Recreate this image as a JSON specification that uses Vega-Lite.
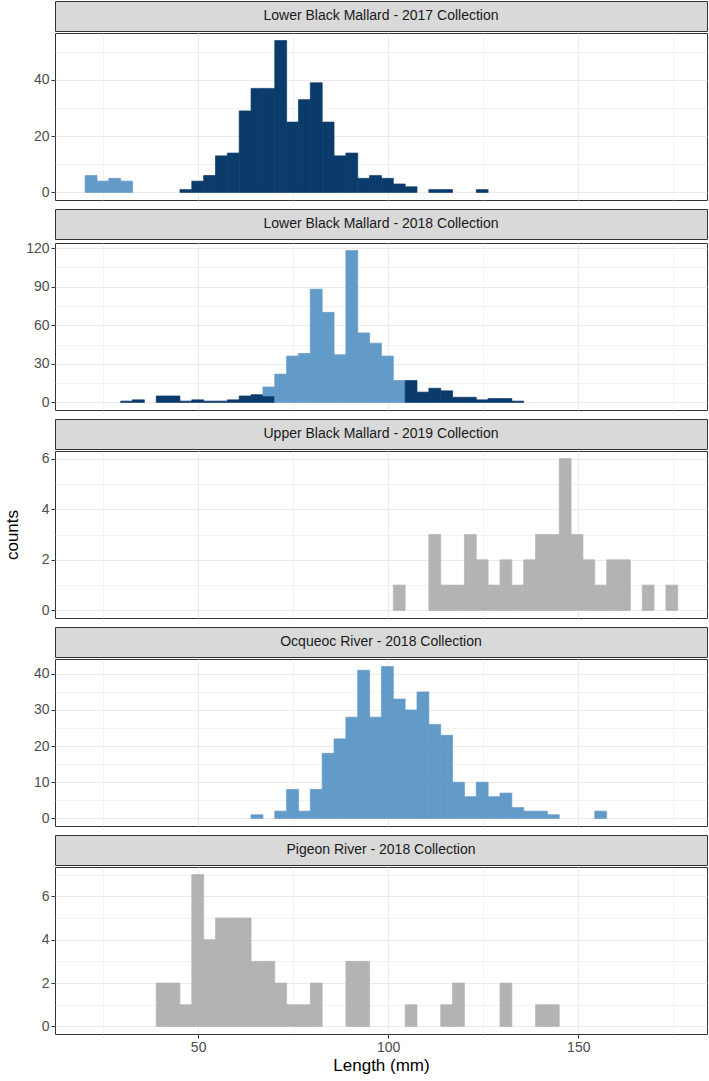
{
  "$schema": "https://vega.github.io/schema/vega-lite/v6.json",
  "padding": {"left": 2, "top": 0, "right": 0, "bottom": 0},
  "background": "white",
  "config": {
    "font": "Liberation Sans",
    "view": {"stroke": "#333333", "strokeWidth": 1},
    "axis": {"domain": false, "labelColor": "#4D4D4D", "labelFontSize": 14, "tickColor": "#333333", "tickSize": 4, "labelPadding": 2, "gridColor": "#EBEBEB", "titleFontWeight": "normal", "titleColor": "#000000", "titleFontSize": 17},
    "text": {"font": "Liberation Sans"},
    "bar": {"strokeWidth": 0.7, "binSpacing": 0}
  },
  "datasets": {
    "h": [
      {"p": 1, "a": 20.14, "b": 23.26, "n": 6, "g": "light"},
      {"p": 1, "a": 23.26, "b": 26.38, "n": 4, "g": "light"},
      {"p": 1, "a": 26.38, "b": 29.49, "n": 5, "g": "light"},
      {"p": 1, "a": 29.49, "b": 32.61, "n": 4, "g": "light"},
      {"p": 1, "a": 45.08, "b": 48.2, "n": 1, "g": "dark"},
      {"p": 1, "a": 48.2, "b": 51.32, "n": 4, "g": "dark"},
      {"p": 1, "a": 51.32, "b": 54.44, "n": 6, "g": "dark"},
      {"p": 1, "a": 54.44, "b": 57.56, "n": 13, "g": "dark"},
      {"p": 1, "a": 57.56, "b": 60.67, "n": 14, "g": "dark"},
      {"p": 1, "a": 60.67, "b": 63.79, "n": 29, "g": "dark"},
      {"p": 1, "a": 63.79, "b": 66.91, "n": 37, "g": "dark"},
      {"p": 1, "a": 66.91, "b": 70.03, "n": 37, "g": "dark"},
      {"p": 1, "a": 70.03, "b": 73.15, "n": 54, "g": "dark"},
      {"p": 1, "a": 73.15, "b": 76.26, "n": 25, "g": "dark"},
      {"p": 1, "a": 76.26, "b": 79.38, "n": 33, "g": "dark"},
      {"p": 1, "a": 79.38, "b": 82.5, "n": 39, "g": "dark"},
      {"p": 1, "a": 82.5, "b": 85.62, "n": 25, "g": "dark"},
      {"p": 1, "a": 85.62, "b": 88.74, "n": 13, "g": "dark"},
      {"p": 1, "a": 88.74, "b": 91.85, "n": 14, "g": "dark"},
      {"p": 1, "a": 91.85, "b": 94.97, "n": 5, "g": "dark"},
      {"p": 1, "a": 94.97, "b": 98.09, "n": 6, "g": "dark"},
      {"p": 1, "a": 98.09, "b": 101.21, "n": 5, "g": "dark"},
      {"p": 1, "a": 101.21, "b": 104.33, "n": 3, "g": "dark"},
      {"p": 1, "a": 104.33, "b": 107.44, "n": 2, "g": "dark"},
      {"p": 1, "a": 110.56, "b": 113.68, "n": 1, "g": "dark"},
      {"p": 1, "a": 113.68, "b": 116.8, "n": 1, "g": "dark"},
      {"p": 1, "a": 123.03, "b": 126.15, "n": 1, "g": "dark"},

      {"p": 2, "a": 29.49, "b": 32.61, "n": 1, "g": "dark"},
      {"p": 2, "a": 32.61, "b": 35.73, "n": 2, "g": "dark"},
      {"p": 2, "a": 38.85, "b": 41.97, "n": 5, "g": "dark"},
      {"p": 2, "a": 41.97, "b": 45.08, "n": 5, "g": "dark"},
      {"p": 2, "a": 45.08, "b": 48.2, "n": 1, "g": "dark"},
      {"p": 2, "a": 48.2, "b": 51.32, "n": 2, "g": "dark"},
      {"p": 2, "a": 51.32, "b": 54.44, "n": 1, "g": "dark"},
      {"p": 2, "a": 54.44, "b": 57.56, "n": 1, "g": "dark"},
      {"p": 2, "a": 57.56, "b": 60.67, "n": 2, "g": "dark"},
      {"p": 2, "a": 60.67, "b": 63.79, "n": 5, "g": "dark"},
      {"p": 2, "a": 63.79, "b": 66.91, "n": 6, "g": "dark"},
      {"p": 2, "a": 66.91, "b": 70.03, "n": 5, "g": "dark"},
      {"p": 2, "a": 66.91, "b": 70.03, "n": 7, "g": "light"},
      {"p": 2, "a": 70.03, "b": 73.15, "n": 22, "g": "light"},
      {"p": 2, "a": 73.15, "b": 76.26, "n": 36, "g": "light"},
      {"p": 2, "a": 76.26, "b": 79.38, "n": 38, "g": "light"},
      {"p": 2, "a": 79.38, "b": 82.5, "n": 88, "g": "light"},
      {"p": 2, "a": 82.5, "b": 85.62, "n": 70, "g": "light"},
      {"p": 2, "a": 85.62, "b": 88.74, "n": 37, "g": "light"},
      {"p": 2, "a": 88.74, "b": 91.85, "n": 118, "g": "light"},
      {"p": 2, "a": 91.85, "b": 94.97, "n": 54, "g": "light"},
      {"p": 2, "a": 94.97, "b": 98.09, "n": 46, "g": "light"},
      {"p": 2, "a": 98.09, "b": 101.21, "n": 36, "g": "light"},
      {"p": 2, "a": 101.21, "b": 104.33, "n": 17, "g": "light"},
      {"p": 2, "a": 104.33, "b": 107.44, "n": 17, "g": "dark"},
      {"p": 2, "a": 107.44, "b": 110.56, "n": 8, "g": "dark"},
      {"p": 2, "a": 110.56, "b": 113.68, "n": 11, "g": "dark"},
      {"p": 2, "a": 113.68, "b": 116.8, "n": 9, "g": "dark"},
      {"p": 2, "a": 116.8, "b": 119.92, "n": 4, "g": "dark"},
      {"p": 2, "a": 119.92, "b": 123.03, "n": 4, "g": "dark"},
      {"p": 2, "a": 123.03, "b": 126.15, "n": 2, "g": "dark"},
      {"p": 2, "a": 126.15, "b": 129.27, "n": 3, "g": "dark"},
      {"p": 2, "a": 129.27, "b": 132.39, "n": 3, "g": "dark"},
      {"p": 2, "a": 132.39, "b": 135.51, "n": 1, "g": "dark"},

      {"p": 3, "a": 101.21, "b": 104.33, "n": 1, "g": "none"},
      {"p": 3, "a": 110.56, "b": 113.68, "n": 3, "g": "none"},
      {"p": 3, "a": 113.68, "b": 116.8, "n": 1, "g": "none"},
      {"p": 3, "a": 116.8, "b": 119.92, "n": 1, "g": "none"},
      {"p": 3, "a": 119.92, "b": 123.03, "n": 3, "g": "none"},
      {"p": 3, "a": 123.03, "b": 126.15, "n": 2, "g": "none"},
      {"p": 3, "a": 126.15, "b": 129.27, "n": 1, "g": "none"},
      {"p": 3, "a": 129.27, "b": 132.39, "n": 2, "g": "none"},
      {"p": 3, "a": 132.39, "b": 135.51, "n": 1, "g": "none"},
      {"p": 3, "a": 135.51, "b": 138.62, "n": 2, "g": "none"},
      {"p": 3, "a": 138.62, "b": 141.74, "n": 3, "g": "none"},
      {"p": 3, "a": 141.74, "b": 144.86, "n": 3, "g": "none"},
      {"p": 3, "a": 144.86, "b": 147.98, "n": 6, "g": "none"},
      {"p": 3, "a": 147.98, "b": 151.1, "n": 3, "g": "none"},
      {"p": 3, "a": 151.1, "b": 154.21, "n": 2, "g": "none"},
      {"p": 3, "a": 154.21, "b": 157.33, "n": 1, "g": "none"},
      {"p": 3, "a": 157.33, "b": 160.45, "n": 2, "g": "none"},
      {"p": 3, "a": 160.45, "b": 163.57, "n": 2, "g": "none"},
      {"p": 3, "a": 166.69, "b": 169.8, "n": 1, "g": "none"},
      {"p": 3, "a": 172.92, "b": 176.04, "n": 1, "g": "none"},

      {"p": 4, "a": 63.79, "b": 66.91, "n": 1, "g": "light"},
      {"p": 4, "a": 70.03, "b": 73.15, "n": 2, "g": "light"},
      {"p": 4, "a": 73.15, "b": 76.26, "n": 8, "g": "light"},
      {"p": 4, "a": 76.26, "b": 79.38, "n": 2, "g": "light"},
      {"p": 4, "a": 79.38, "b": 82.5, "n": 8, "g": "light"},
      {"p": 4, "a": 82.5, "b": 85.62, "n": 18, "g": "light"},
      {"p": 4, "a": 85.62, "b": 88.74, "n": 22, "g": "light"},
      {"p": 4, "a": 88.74, "b": 91.85, "n": 28, "g": "light"},
      {"p": 4, "a": 91.85, "b": 94.97, "n": 41, "g": "light"},
      {"p": 4, "a": 94.97, "b": 98.09, "n": 28, "g": "light"},
      {"p": 4, "a": 98.09, "b": 101.21, "n": 42, "g": "light"},
      {"p": 4, "a": 101.21, "b": 104.33, "n": 33, "g": "light"},
      {"p": 4, "a": 104.33, "b": 107.44, "n": 30, "g": "light"},
      {"p": 4, "a": 107.44, "b": 110.56, "n": 35, "g": "light"},
      {"p": 4, "a": 110.56, "b": 113.68, "n": 26, "g": "light"},
      {"p": 4, "a": 113.68, "b": 116.8, "n": 23, "g": "light"},
      {"p": 4, "a": 116.8, "b": 119.92, "n": 10, "g": "light"},
      {"p": 4, "a": 119.92, "b": 123.03, "n": 6, "g": "light"},
      {"p": 4, "a": 123.03, "b": 126.15, "n": 10, "g": "light"},
      {"p": 4, "a": 126.15, "b": 129.27, "n": 6, "g": "light"},
      {"p": 4, "a": 129.27, "b": 132.39, "n": 7, "g": "light"},
      {"p": 4, "a": 132.39, "b": 135.51, "n": 3, "g": "light"},
      {"p": 4, "a": 135.51, "b": 138.62, "n": 2, "g": "light"},
      {"p": 4, "a": 138.62, "b": 141.74, "n": 2, "g": "light"},
      {"p": 4, "a": 141.74, "b": 144.86, "n": 1, "g": "light"},
      {"p": 4, "a": 154.21, "b": 157.33, "n": 2, "g": "light"},

      {"p": 5, "a": 38.85, "b": 41.97, "n": 2, "g": "none"},
      {"p": 5, "a": 41.97, "b": 45.08, "n": 2, "g": "none"},
      {"p": 5, "a": 45.08, "b": 48.2, "n": 1, "g": "none"},
      {"p": 5, "a": 48.2, "b": 51.32, "n": 7, "g": "none"},
      {"p": 5, "a": 51.32, "b": 54.44, "n": 4, "g": "none"},
      {"p": 5, "a": 54.44, "b": 57.56, "n": 5, "g": "none"},
      {"p": 5, "a": 57.56, "b": 60.67, "n": 5, "g": "none"},
      {"p": 5, "a": 60.67, "b": 63.79, "n": 5, "g": "none"},
      {"p": 5, "a": 63.79, "b": 66.91, "n": 3, "g": "none"},
      {"p": 5, "a": 66.91, "b": 70.03, "n": 3, "g": "none"},
      {"p": 5, "a": 70.03, "b": 73.15, "n": 2, "g": "none"},
      {"p": 5, "a": 73.15, "b": 76.26, "n": 1, "g": "none"},
      {"p": 5, "a": 76.26, "b": 79.38, "n": 1, "g": "none"},
      {"p": 5, "a": 79.38, "b": 82.5, "n": 2, "g": "none"},
      {"p": 5, "a": 88.74, "b": 91.85, "n": 3, "g": "none"},
      {"p": 5, "a": 91.85, "b": 94.97, "n": 3, "g": "none"},
      {"p": 5, "a": 104.33, "b": 107.44, "n": 1, "g": "none"},
      {"p": 5, "a": 113.68, "b": 116.8, "n": 1, "g": "none"},
      {"p": 5, "a": 116.8, "b": 119.92, "n": 2, "g": "none"},
      {"p": 5, "a": 129.27, "b": 132.39, "n": 2, "g": "none"},
      {"p": 5, "a": 138.62, "b": 141.74, "n": 1, "g": "none"},
      {"p": 5, "a": 141.74, "b": 144.86, "n": 1, "g": "none"}
    ]
  },
  "spacing": 7,
  "vconcat": [
    {
      "spacing": 0,
      "vconcat": [
        {"width": 652, "height": 30, "view": {"fill": "#D9D9D9", "stroke": "#333333"}, "data": {"values": [{"t": "Lower Black Mallard - 2017 Collection"}]}, "mark": {"type": "text", "fontSize": 14, "color": "#1A1A1A"}, "encoding": {"text": {"field": "t"}}},
        {
          "width": 652, "height": 167, "data": {"name": "h"}, "transform": [{"filter": "datum.p == 1"}],
          "layer": [
            {"mark": {"type": "bar", "opacity": 0, "strokeWidth": 0}, "encoding": {
              "x": {"field": "a", "bin": "binned", "type": "quantitative", "scale": {"domain": [12.35, 183.86], "nice": false, "zero": false}, "axis": {"orient": "top", "values": [25, 75, 125, 175], "grid": true, "gridWidth": 0.6, "labels": false, "ticks": false, "title": null}},
              "x2": {"field": "b"},
              "y": {"field": "n", "type": "quantitative", "scale": {"domain": [-2.7, 56.7], "nice": false, "zero": false}, "axis": {"orient": "right", "values": [10, 30, 50], "grid": true, "gridWidth": 0.6, "labels": false, "ticks": false, "title": null}}}},
            {"mark": {"type": "bar"}, "encoding": {
              "x": {"field": "a", "bin": "binned", "type": "quantitative", "axis": {"values": [50, 100, 150], "grid": true, "gridWidth": 1.1, "labels": false, "ticks": false, "title": null}},
              "x2": {"field": "b"},
              "y": {"field": "n", "type": "quantitative", "axis": {"values": [0, 20, 40], "grid": true, "gridWidth": 1.1, "title": null}},
              "color": {"field": "g", "type": "nominal", "scale": {"domain": ["dark", "light", "none"], "range": ["#0B3B6A", "#629AC8", "#B3B3B3"]}, "legend": null},
              "stroke": {"field": "g", "type": "nominal", "scale": {"domain": ["dark", "light", "none"], "range": ["#0B3B6A", "#629AC8", "#B3B3B3"]}, "legend": null},
              "order": {"field": "g", "sort": "ascending"}}}
          ],
          "resolve": {"axis": {"x": "independent", "y": "independent"}}
        }
      ]
    },
    {
      "spacing": 0,
      "vconcat": [
        {"width": 652, "height": 30, "view": {"fill": "#D9D9D9", "stroke": "#333333"}, "data": {"values": [{"t": "Lower Black Mallard - 2018 Collection"}]}, "mark": {"type": "text", "fontSize": 14, "color": "#1A1A1A"}, "encoding": {"text": {"field": "t"}}},
        {
          "width": 652, "height": 167, "data": {"name": "h"}, "transform": [{"filter": "datum.p == 2"}],
          "layer": [
            {"mark": {"type": "bar", "opacity": 0, "strokeWidth": 0}, "encoding": {
              "x": {"field": "a", "bin": "binned", "type": "quantitative", "scale": {"domain": [12.35, 183.86], "nice": false, "zero": false}, "axis": {"orient": "top", "values": [25, 75, 125, 175], "grid": true, "gridWidth": 0.6, "labels": false, "ticks": false, "title": null}},
              "x2": {"field": "b"},
              "y": {"field": "n", "type": "quantitative", "scale": {"domain": [-5.9, 123.9], "nice": false, "zero": false}, "axis": {"orient": "right", "values": [15, 45, 75, 105], "grid": true, "gridWidth": 0.6, "labels": false, "ticks": false, "title": null}}}},
            {"mark": {"type": "bar"}, "encoding": {
              "x": {"field": "a", "bin": "binned", "type": "quantitative", "axis": {"values": [50, 100, 150], "grid": true, "gridWidth": 1.1, "labels": false, "ticks": false, "title": null}},
              "x2": {"field": "b"},
              "y": {"field": "n", "type": "quantitative", "axis": {"values": [0, 30, 60, 90, 120], "grid": true, "gridWidth": 1.1, "title": null}},
              "color": {"field": "g", "type": "nominal", "scale": {"domain": ["dark", "light", "none"], "range": ["#0B3B6A", "#629AC8", "#B3B3B3"]}, "legend": null},
              "stroke": {"field": "g", "type": "nominal", "scale": {"domain": ["dark", "light", "none"], "range": ["#0B3B6A", "#629AC8", "#B3B3B3"]}, "legend": null},
              "order": {"field": "g", "sort": "ascending"}}}
          ],
          "resolve": {"axis": {"x": "independent", "y": "independent"}}
        }
      ]
    },
    {
      "spacing": 0,
      "vconcat": [
        {"width": 652, "height": 30, "view": {"fill": "#D9D9D9", "stroke": "#333333"}, "data": {"values": [{"t": "Upper Black Mallard - 2019 Collection"}]}, "mark": {"type": "text", "fontSize": 14, "color": "#1A1A1A"}, "encoding": {"text": {"field": "t"}}},
        {
          "width": 652, "height": 167, "data": {"name": "h"}, "transform": [{"filter": "datum.p == 3"}],
          "layer": [
            {"mark": {"type": "bar", "opacity": 0, "strokeWidth": 0}, "encoding": {
              "x": {"field": "a", "bin": "binned", "type": "quantitative", "scale": {"domain": [12.35, 183.86], "nice": false, "zero": false}, "axis": {"orient": "top", "values": [25, 75, 125, 175], "grid": true, "gridWidth": 0.6, "labels": false, "ticks": false, "title": null}},
              "x2": {"field": "b"},
              "y": {"field": "n", "type": "quantitative", "scale": {"domain": [-0.3, 6.3], "nice": false, "zero": false}, "axis": {"orient": "right", "values": [1, 3, 5], "grid": true, "gridWidth": 0.6, "labels": false, "ticks": false, "title": null}}}},
            {"mark": {"type": "bar"}, "encoding": {
              "x": {"field": "a", "bin": "binned", "type": "quantitative", "axis": {"values": [50, 100, 150], "grid": true, "gridWidth": 1.1, "labels": false, "ticks": false, "title": null}},
              "x2": {"field": "b"},
              "y": {"field": "n", "type": "quantitative", "axis": {"values": [0, 2, 4, 6], "grid": true, "gridWidth": 1.1, "title": "counts", "titlePadding": 20}},
              "color": {"field": "g", "type": "nominal", "scale": {"domain": ["dark", "light", "none"], "range": ["#0B3B6A", "#629AC8", "#B3B3B3"]}, "legend": null},
              "stroke": {"field": "g", "type": "nominal", "scale": {"domain": ["dark", "light", "none"], "range": ["#0B3B6A", "#629AC8", "#B3B3B3"]}, "legend": null},
              "order": {"field": "g", "sort": "ascending"}}}
          ],
          "resolve": {"axis": {"x": "independent", "y": "independent"}}
        }
      ]
    },
    {
      "spacing": 0,
      "vconcat": [
        {"width": 652, "height": 30, "view": {"fill": "#D9D9D9", "stroke": "#333333"}, "data": {"values": [{"t": "Ocqueoc River - 2018 Collection"}]}, "mark": {"type": "text", "fontSize": 14, "color": "#1A1A1A"}, "encoding": {"text": {"field": "t"}}},
        {
          "width": 652, "height": 167, "data": {"name": "h"}, "transform": [{"filter": "datum.p == 4"}],
          "layer": [
            {"mark": {"type": "bar", "opacity": 0, "strokeWidth": 0}, "encoding": {
              "x": {"field": "a", "bin": "binned", "type": "quantitative", "scale": {"domain": [12.35, 183.86], "nice": false, "zero": false}, "axis": {"orient": "top", "values": [25, 75, 125, 175], "grid": true, "gridWidth": 0.6, "labels": false, "ticks": false, "title": null}},
              "x2": {"field": "b"},
              "y": {"field": "n", "type": "quantitative", "scale": {"domain": [-2.1, 44.1], "nice": false, "zero": false}, "axis": {"orient": "right", "values": [5, 15, 25, 35], "grid": true, "gridWidth": 0.6, "labels": false, "ticks": false, "title": null}}}},
            {"mark": {"type": "bar"}, "encoding": {
              "x": {"field": "a", "bin": "binned", "type": "quantitative", "axis": {"values": [50, 100, 150], "grid": true, "gridWidth": 1.1, "labels": false, "ticks": false, "title": null}},
              "x2": {"field": "b"},
              "y": {"field": "n", "type": "quantitative", "axis": {"values": [0, 10, 20, 30, 40], "grid": true, "gridWidth": 1.1, "title": null}},
              "color": {"field": "g", "type": "nominal", "scale": {"domain": ["dark", "light", "none"], "range": ["#0B3B6A", "#629AC8", "#B3B3B3"]}, "legend": null},
              "stroke": {"field": "g", "type": "nominal", "scale": {"domain": ["dark", "light", "none"], "range": ["#0B3B6A", "#629AC8", "#B3B3B3"]}, "legend": null},
              "order": {"field": "g", "sort": "ascending"}}}
          ],
          "resolve": {"axis": {"x": "independent", "y": "independent"}}
        }
      ]
    },
    {
      "spacing": 0,
      "vconcat": [
        {"width": 652, "height": 30, "view": {"fill": "#D9D9D9", "stroke": "#333333"}, "data": {"values": [{"t": "Pigeon River - 2018 Collection"}]}, "mark": {"type": "text", "fontSize": 14, "color": "#1A1A1A"}, "encoding": {"text": {"field": "t"}}},
        {
          "width": 652, "height": 167, "data": {"name": "h"}, "transform": [{"filter": "datum.p == 5"}],
          "layer": [
            {"mark": {"type": "bar", "opacity": 0, "strokeWidth": 0}, "encoding": {
              "x": {"field": "a", "bin": "binned", "type": "quantitative", "scale": {"domain": [12.35, 183.86], "nice": false, "zero": false}, "axis": {"orient": "top", "values": [25, 75, 125, 175], "grid": true, "gridWidth": 0.6, "labels": false, "ticks": false, "title": null}},
              "x2": {"field": "b"},
              "y": {"field": "n", "type": "quantitative", "scale": {"domain": [-0.35, 7.35], "nice": false, "zero": false}, "axis": {"orient": "right", "values": [1, 3, 5, 7], "grid": true, "gridWidth": 0.6, "labels": false, "ticks": false, "title": null}}}},
            {"mark": {"type": "bar"}, "encoding": {
              "x": {"field": "a", "bin": "binned", "type": "quantitative", "axis": {"values": [50, 100, 150], "grid": true, "gridWidth": 1.1, "title": "Length (mm)", "titlePadding": 3}},
              "x2": {"field": "b"},
              "y": {"field": "n", "type": "quantitative", "axis": {"values": [0, 2, 4, 6], "grid": true, "gridWidth": 1.1, "title": null}},
              "color": {"field": "g", "type": "nominal", "scale": {"domain": ["dark", "light", "none"], "range": ["#0B3B6A", "#629AC8", "#B3B3B3"]}, "legend": null},
              "stroke": {"field": "g", "type": "nominal", "scale": {"domain": ["dark", "light", "none"], "range": ["#0B3B6A", "#629AC8", "#B3B3B3"]}, "legend": null},
              "order": {"field": "g", "sort": "ascending"}}}
          ],
          "resolve": {"axis": {"x": "independent", "y": "independent"}}
        }
      ]
    }
  ]
}
